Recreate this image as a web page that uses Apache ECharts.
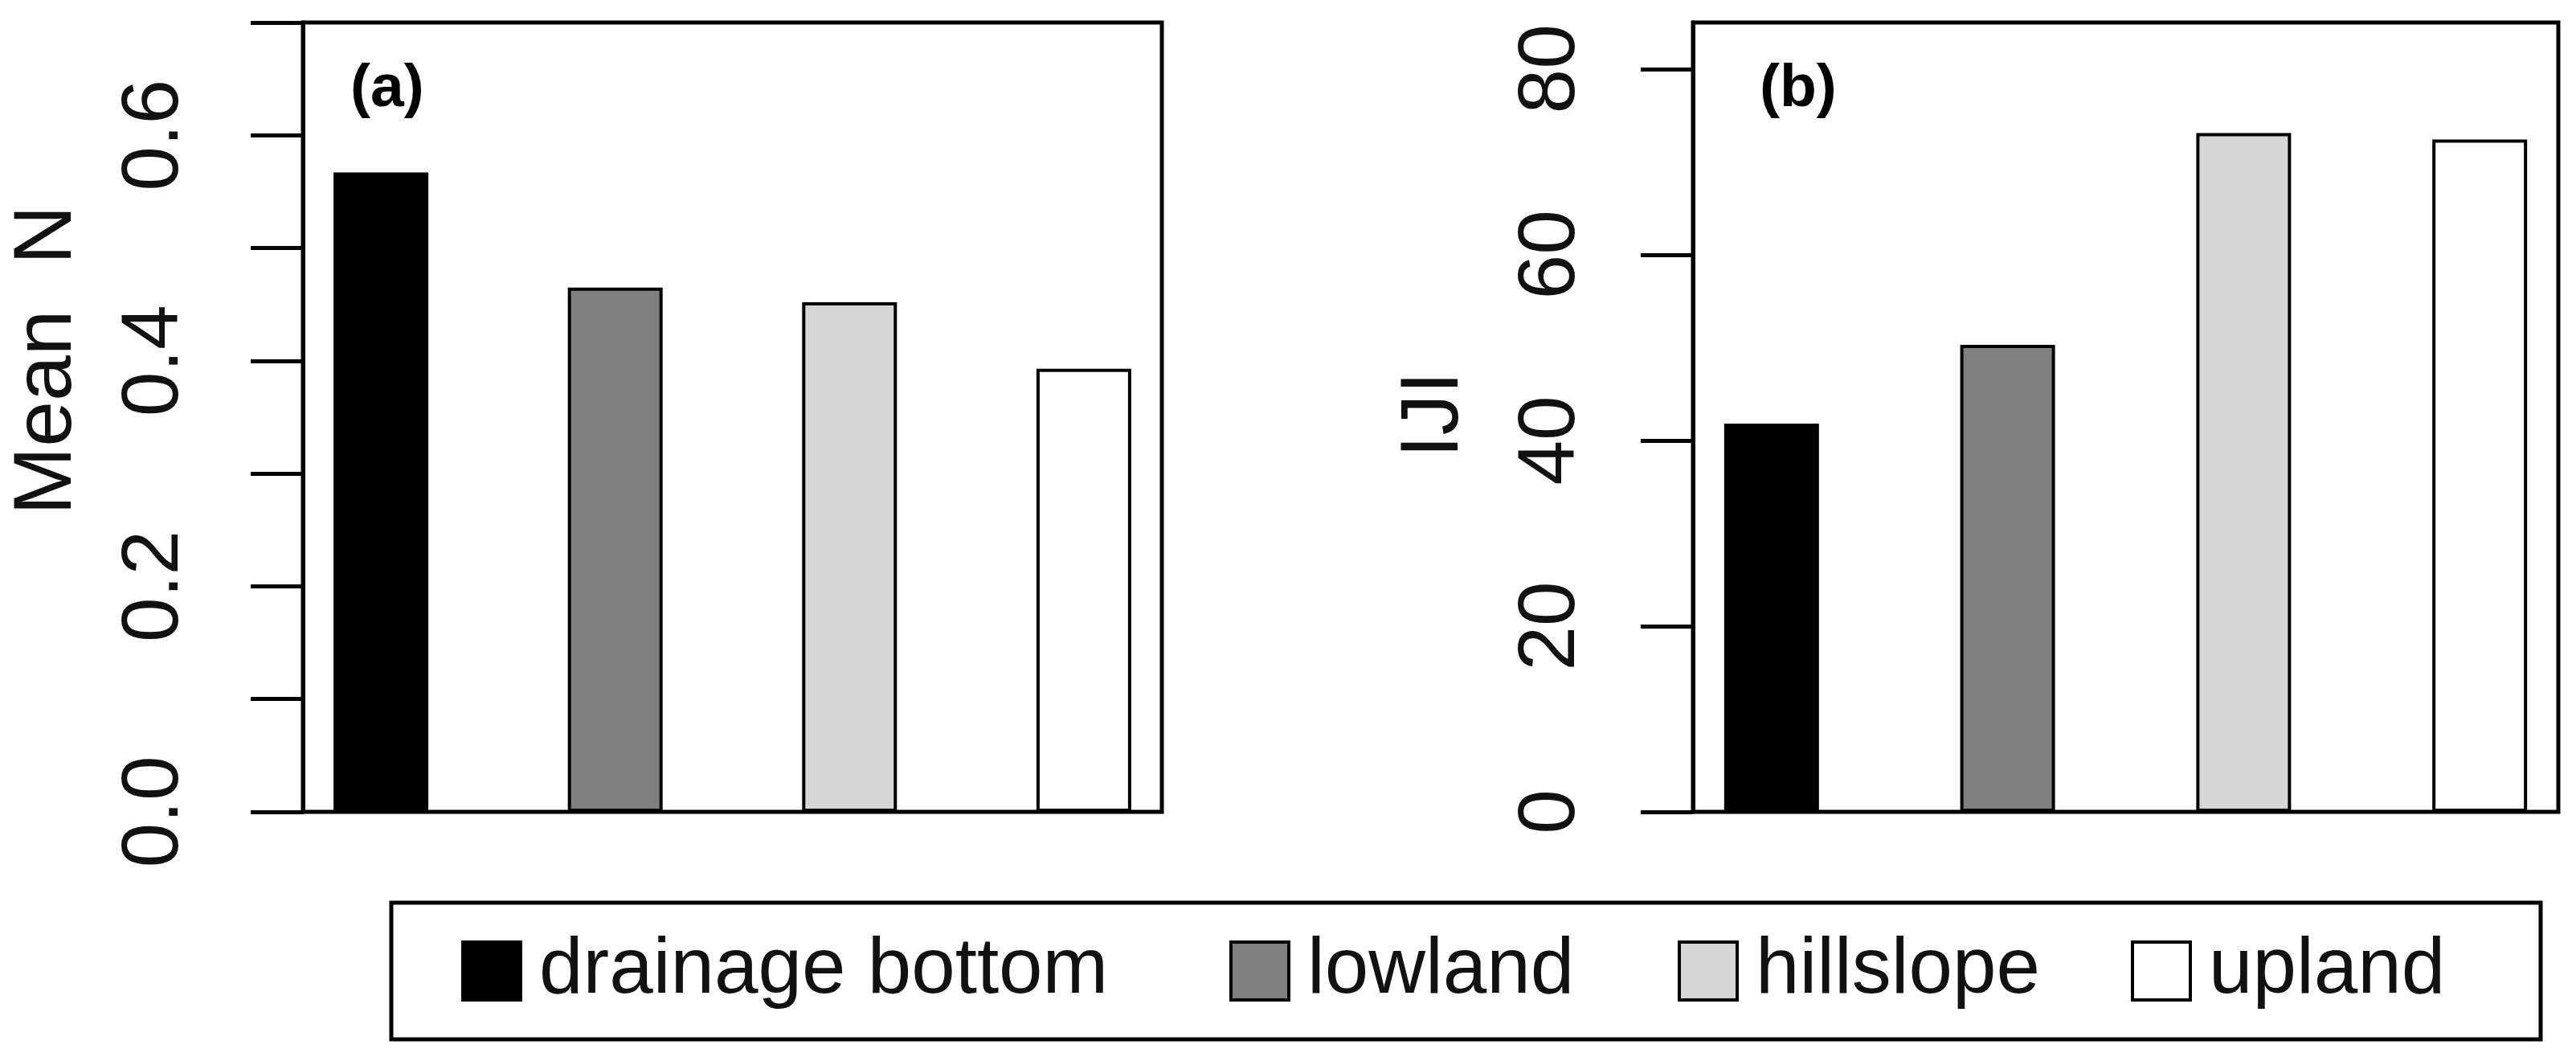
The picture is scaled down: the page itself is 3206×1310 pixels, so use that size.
<!DOCTYPE html>
<html><head><meta charset="utf-8">
<script src="https://cdn.jsdelivr.net/npm/echarts@6/dist/echarts.min.js"></script>
<style>html,body{margin:0;padding:0;background:#fff}#c{width:3206px;height:1310px}</style>
</head><body><div id="c"></div>
<script>
// ---- data ----
const categories = ['drainage bottom', 'lowland', 'hillslope', 'upland'];
const barColors = ['#000000', '#808080', '#d6d6d6', '#ffffff'];
const meanN = [0.567, 0.465, 0.452, 0.393];
const iji = [41.8, 50.3, 73.1, 72.4];
const ticksA = [0, 0.1, 0.2, 0.3, 0.4, 0.5, 0.6, 0.7];
const labelsA = [0, 0.2, 0.4, 0.6];
const ticksB = [0, 20, 40, 60, 80];
const labelsB = [0, 20, 40, 60, 80];
const panelTags = ['(a)', '(b)'];
const yTitles = ['Mean  N', 'IJI'];
const legendLefts = [574, 1530, 2088, 2652];

const FONT = '"Liberation Sans", Arial, Helvetica, sans-serif';
const chart = echarts.init(document.getElementById('c'), null, {renderer: 'canvas'});

function barSeries(values, idx) {
  return categories.map((name, i) => ({
    name: name, type: 'bar', xAxisIndex: idx, yAxisIndex: idx,
    barWidth: 118, barGap: '-100%',
    itemStyle: {color: barColors[i], borderColor: '#000', borderWidth: 4},
    emphasis: {disabled: true},
    data: [[i, values[i]]]
  }));
}

function yAxis(idx, max, ticks, labels, fmt, margin, nameGap, namePad) {
  return {
    gridIndex: idx, type: 'value', min: 0, max: max, position: 'left',
    axisLine: {show: true, onZero: false, lineStyle: {color: '#000', width: 5}},
    axisTick: {show: true, length: 65, lineStyle: {color: '#000', width: 5}, customValues: ticks},
    axisLabel: {customValues: labels, rotate: 90, margin: margin, align: 'center', verticalAlign: 'middle',
      fontSize: 100, fontFamily: FONT, color: '#111', formatter: fmt},
    splitLine: {show: false},
    name: yTitles[idx], nameLocation: 'middle', nameGap: nameGap, nameRotate: 90, nameMoveOverlap: false,
    nameTextStyle: {fontSize: 102, fontFamily: FONT, color: '#111', align: 'center', verticalAlign: 'middle', padding: [0, 0, 0, namePad]}
  };
}

const legends = categories.map((name, i) => ({
  data: [name], orient: 'horizontal', left: legendLefts[i], top: 1159,
  itemWidth: 72, itemHeight: 72, padding: 0,
  icon: 'rect', selectedMode: false,
  itemStyle: {borderColor: '#000', borderWidth: 4},
  textStyle: {fontSize: 98, fontFamily: FONT, color: '#111', padding: [0, 0, 0, 18]}
}));

const option = {
  animation: false,
  backgroundColor: '#fff',
  grid: [
    {left: 377, top: 28, width: 1069, height: 982, show: true, borderColor: '#000', borderWidth: 5, backgroundColor: 'transparent', outerBoundsMode: 'none', containLabel: false},
    {left: 2107, top: 28, width: 1077, height: 982, show: true, borderColor: '#000', borderWidth: 5, backgroundColor: 'transparent', outerBoundsMode: 'none', containLabel: false}
  ],
  xAxis: [
    {gridIndex: 0, type: 'value', min: -0.333, max: 3.333, show: false},
    {gridIndex: 1, type: 'value', min: -0.333, max: 3.333, show: false}
  ],
  yAxis: [
    yAxis(0, 0.7, ticksA, labelsA, v => Number(v).toFixed(1), 184, 317, 142),
    yAxis(1, 85, ticksB, labelsB, v => String(Math.round(v)), 176, 321, 6)
  ],
  legend: legends,
  graphic: [
    {type: 'rect', z: 0, shape: {x: 487, y: 1123, width: 2675, height: 170}, style: {fill: 'none', stroke: '#000', lineWidth: 5}},
    {type: 'text', left: 436, top: 74, style: {text: panelTags[0], font: 'bold 75px ' + FONT, fill: '#000'}},
    {type: 'text', left: 2190, top: 74, style: {text: panelTags[1], font: 'bold 75px ' + FONT, fill: '#000'}}
  ],
  series: barSeries(meanN, 0).concat(barSeries(iji, 1))
};
chart.setOption(option);
</script></body></html>
